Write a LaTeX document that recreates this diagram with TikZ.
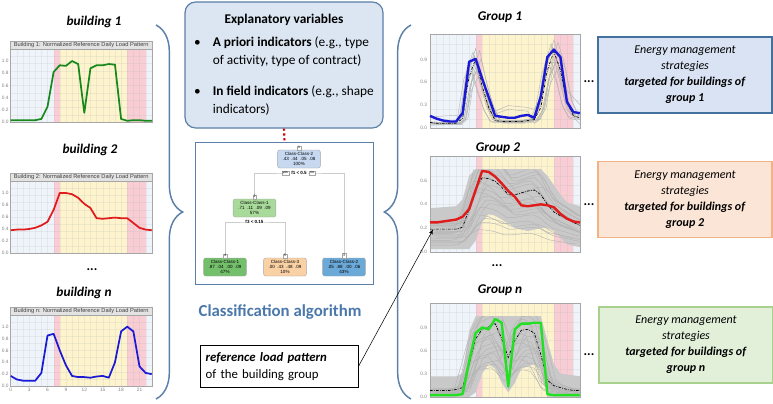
\documentclass[tikz,border=0pt]{standalone}
\usepackage{fontspec}
\setmainfont{Carlito}
\newfontfamily\chartfont{Liberation Sans}
\usetikzlibrary{arrows,positioning,decorations.pathreplacing}

\definecolor{varblue}{HTML}{DCE6F2}
\definecolor{frameblue}{HTML}{5B7FA8}
\definecolor{titleblue}{HTML}{4A78AA}
\definecolor{nightblue}{HTML}{EEF4FA}
\definecolor{peakpink}{HTML}{F8CDD4}
\definecolor{dayyellow}{HTML}{FDF4CD}
\definecolor{stratblue}{HTML}{DAE3F3}
\definecolor{stratblueline}{HTML}{41719C}
\definecolor{stratorange}{HTML}{FBE5D6}
\definecolor{stratorangeline}{HTML}{F4B183}
\definecolor{stratgreen}{HTML}{E2F0D9}
\definecolor{stratgreenline}{HTML}{A9D18E}
\definecolor{rootblue}{HTML}{C6D9F1}
\definecolor{midgreen}{HTML}{A8DA9A}
\definecolor{leafgreen}{HTML}{74BF6C}
\definecolor{leaforange}{HTML}{FAD0A5}
\definecolor{leafblue}{HTML}{6AA9D8}
\definecolor{curvegreen}{HTML}{16881C}
\definecolor{curvered}{HTML}{E01B1B}
\definecolor{curveblue}{HTML}{1A1AD6}
\definecolor{limegreen}{HTML}{22E022}

% day bands behind a load chart, #1 = top of the plot
\newcommand{\daybands}[1]{%
  \fill[nightblue] (0,0) rectangle (7,#1);
  \fill[peakpink] (7,0) rectangle (8,#1);
  \fill[dayyellow] (8,0) rectangle (19,#1);
  \fill[peakpink] (19,0) rectangle (22,#1);
  \fill[nightblue] (22,0) rectangle (23,#1);
  \foreach \gx in {1,...,22}
    \draw[gridline] (\gx,0) -- (\gx,#1);
  \foreach \gy in {1,...,9}
    \draw[gridline] (0,{\gy*#1/10}) -- (23,{\gy*#1/10});
}

% reference patterns of the groups (fraction of plot height)
\def\groupOneRef{(0,.06) -- (1,.05) -- (2,.05) -- (3,.05) -- (4,.05) -- (5,.10) -- (6,.55) -- (7,.74) -- (8,.45) -- (9,.22) -- (10,.08) -- (11,.07) -- (12,.07) -- (13,.07) -- (14,.07) -- (15,.08) -- (16,.09) -- (17,.22) -- (18,.62) -- (19,.82) -- (20,.62) -- (21,.28) -- (22,.13) -- (23,.11)}
\def\groupTwoRef{(0,.24) -- (1,.24) -- (2,.24) -- (3,.24) -- (4,.24) -- (5,.26) -- (6,.45) -- (7,.66) -- (8,.78) -- (9,.77) -- (10,.74) -- (11,.68) -- (12,.60) -- (13,.60) -- (14,.62) -- (15,.64) -- (16,.65) -- (17,.60) -- (18,.50) -- (19,.42) -- (20,.38) -- (21,.35) -- (22,.31) -- (23,.28)}
\def\groupNRef{(0,.07) -- (1,.07) -- (2,.07) -- (3,.07) -- (4,.08) -- (5,.10) -- (6,.35) -- (7,.62) -- (8,.72) -- (9,.75) -- (10,.78) -- (11,.62) -- (12,.42) -- (13,.60) -- (14,.71) -- (15,.72) -- (16,.68) -- (17,.45) -- (18,.18) -- (19,.12) -- (20,.10) -- (21,.08) -- (22,.07) -- (23,.07)}

\begin{document}
\begin{tikzpicture}[
    x=0.75pt, y=-0.75pt,
    >=latex',
    font=\fontsize{9}{11}\selectfont,
    gridline/.style={gray!60, opacity=0.18, line width=0.2pt},
    chartframe/.style={draw=gray!70, line width=0.4pt},
    titlebar/.style={fill=gray!22, draw=gray!70, line width=0.4pt},
    charttitle/.style={font=\chartfont\fontsize{4.3}{5}\selectfont, text=black!75, inner sep=0pt},
    ticklab/.style={font=\chartfont\fontsize{3.6}{4}\selectfont, text=gray, inner sep=0.5pt},
    loadline/.style={line width=1.3pt, line join=round},
    groupline/.style={line width=1.8pt, line join=round},
    refline/.style={black, line width=0.5pt, dash pattern=on 2pt off 1pt on 0.5pt off 1pt},
    grayline/.style={gray!60, line width=0.3pt},
    bundle/.style={fill=gray!42},
    blabel/.style={font=\fontsize{10}{12}\selectfont\bfseries\itshape},
    dots/.style={font=\fontsize{10}{12}\selectfont\bfseries},
    varbox/.style={
		rectangle,
		rounded corners=8pt,
		draw=frameblue,
		line width=0.9pt,
		fill=varblue,
		minimum width=148.5pt,
		minimum height=94.5pt,
		inner sep=0pt,
		font=\fontsize{10}{13.5}\selectfont
	},
    treebox/.style={
		rectangle,
		draw=frameblue,
		line width=0.9pt,
		fill=white,
		minimum width=134pt,
		minimum height=107pt
	},
    treenode/.style={
		rectangle,
		rounded corners=1.5pt,
		draw=gray!70,
		line width=0.3pt,
		align=center,
		font=\chartfont\fontsize{3.4}{4}\selectfont,
		minimum width=32pt,
		minimum height=13.5pt,
		inner sep=0.5pt
	},
    treeid/.style={draw=gray!70, fill=white, line width=0.2pt, font=\chartfont\fontsize{2.6}{3}\selectfont, inner sep=0.6pt},
    treeedge/.style={gray!40, line width=0.6pt},
    splitlab/.style={fill=white, font=\chartfont\bfseries\fontsize{3.4}{4}\selectfont, inner sep=0.6pt},
    stratbox/.style={
		rectangle,
		line width=1.4pt,
		align=center,
		minimum width=130pt,
		minimum height=57pt,
		font=\fontsize{9}{12}\selectfont
	},
    refbox/.style={
		rectangle,
		draw=black,
		line width=0.6pt,
		fill=white,
		align=left,
		minimum width=118.5pt,
		minimum height=32pt,
		text width=110pt,
		font=\fontsize{9.6}{12.5}\selectfont
	},
    bracestyle/.style={decorate, draw=frameblue, line width=1.1pt}
  ]
  \useasboundingbox (0,0) rectangle (773,403);

  % left column: daily load patterns of single buildings
  \node[blabel] (b1) at (94,22) {building 1};
  \node[blabel] (b2) at (90,150) {building 2};
  \node[dots] (bdots) at (92,270) {...};
  \node[blabel] (bn) at (84,293) {building n};

  \begin{scope}[shift={(10.7,122)}, x=4.6pt, y=45.75pt]
    \daybands{1.2}
    \draw[titlebar] (0,1.2) rectangle (23,1.32);
    \node[charttitle] at (11.5,1.26) {Building 1: Normalized Reference Daily Load Pattern};
    \draw[chartframe] (0,0) rectangle (23,1.32);
    \foreach \v in {0.0,0.2,0.4,0.6,0.8,1.0}
      \node[ticklab, anchor=east] at (-0.2,\v) {\v};
    \draw[loadline, curvegreen] (0,.03) -- (1,.03) -- (2,.03) -- (3,.03) -- (4,.03) -- (5,.05) -- (6,.25) -- (7,.82) -- (8,.93) -- (9,.92) -- (10,1.0) -- (11,.95) -- (12,.15) -- (13,.88) -- (14,.93) -- (15,.93) -- (16,.95) -- (17,.94) -- (18,.05) -- (19,.02) -- (20,.03) -- (21,.03) -- (22,.02) -- (23,.02);
  \end{scope}

  \begin{scope}[shift={(10.7,253)}, x=4.6pt, y=45pt]
    \daybands{1.2}
    \draw[titlebar] (0,1.2) rectangle (23,1.33);
    \node[charttitle] at (11.5,1.265) {Building 2: Normalized Reference Daily Load Pattern};
    \draw[chartframe] (0,0) rectangle (23,1.33);
    \foreach \v in {0.0,0.2,0.4,0.6,0.8,1.0}
      \node[ticklab, anchor=east] at (-0.2,\v) {\v};
    \draw[loadline, curvered] (0,.38) -- (1,.39) -- (2,.39) -- (3,.40) -- (4,.42) -- (5,.46) -- (6,.52) -- (7,.72) -- (8,1.0) -- (9,1.0) -- (10,.98) -- (11,.92) -- (12,.82) -- (13,.75) -- (14,.58) -- (15,.57) -- (16,.58) -- (17,.59) -- (18,.58) -- (19,.58) -- (20,.50) -- (21,.42) -- (22,.39) -- (23,.38);
  \end{scope}

  \begin{scope}[shift={(10.7,386)}, x=4.6pt, y=44.5pt]
    \daybands{1.2}
    \draw[titlebar] (0,1.2) rectangle (23,1.33);
    \node[charttitle] at (11.5,1.265) {Building n: Normalized Reference Daily Load Pattern};
    \draw[chartframe] (0,0) rectangle (23,1.33);
    \foreach \v in {0.0,0.2,0.4,0.6,0.8,1.0}
      \node[ticklab, anchor=east] at (-0.2,\v) {\v};
    \foreach \h in {0,3,...,21}
      \node[ticklab, anchor=north] at (\h,-0.02) {\h};
    \draw[loadline, curveblue] (0,.17) -- (1,.11) -- (2,.09) -- (3,.09) -- (4,.09) -- (5,.22) -- (6,.85) -- (7,.88) -- (8,.60) -- (9,.35) -- (10,.17) -- (11,.15) -- (12,.15) -- (13,.14) -- (14,.16) -- (15,.17) -- (16,.14) -- (17,.40) -- (18,.92) -- (19,1.0) -- (20,.92) -- (21,.33) -- (22,.22) -- (23,.20);
  \end{scope}

  % braces
  \draw[bracestyle, decoration={brace, amplitude=20pt}] (156,25) -- (156,399);
  \draw[bracestyle, decoration={brace, amplitude=20pt}] (411,399) -- (411,25);

  % middle column: explanatory variables and tree
  \node[varbox] (expl) at (284,65)
 {%
 \begin{tabular}{@{}p{14pt}@{}l@{}}
  \multicolumn{2}{c}{\textbf{Explanatory variables}}\\[4pt]
  \textbullet & \textbf{A priori indicators} (e.g., type\\
   & of activity, type of contract)\\[9.5pt]
  \textbullet & \textbf{In field indicators} (e.g., shape\\
   & indicators)
 \end{tabular}
 };

  \node[treebox] (tree) at (284.5,213.5) {};
  \draw[red!85!black, line width=1.6pt, dotted] (expl.south) -- (tree.north);

  \node[treenode, fill=rootblue] (t1) at (299,159) {Class-Class-2\\.43\ \ .44\ \ .05\ \ .08\\100\%};
  \node[treenode, fill=midgreen] (t2) at (254.5,208) {Class-Class-1\\.71\ \ .11\ \ .09\ \ .09\\57\%};
  \node[treenode, fill=leafgreen] (t4) at (225,267) {Class-Class-1\\.87\ \ .04\ \ .00\ \ .09\\47\%};
  \node[treenode, fill=leaforange] (t5) at (285,267) {Class-Class-3\\.00\ \ .43\ \ .48\ \ .09\\10\%};
  \node[treenode, fill=leafblue] (t3) at (344,267) {Class-Class-2\\.05\ \ .88\ \ .00\ \ .06\\43\%};

  \coordinate (s1) at (299,173);
  \coordinate (s2) at (254.5,222);
  \draw[treeedge] (t2.north) |- (s1) -| (t3.north);
  \draw[treeedge] (t4.north) |- (s2) -| (t5.north);

  \node[treeid, above=0pt of t1] (id1) {1};
  \node[treeid, above=0pt of t2] (id2) {2};
  \node[treeid, above=0pt of t4] (id4) {4};
  \node[treeid, above=0pt of t5] (id5) {5};
  \node[treeid, above=0pt of t3] (id3) {3};
  \node[splitlab] (sp1) at (s1) {f1 < 0.5};
  \node[treeid, left=1pt of sp1] (yes1) {yes};
  \node[treeid, right=1pt of sp1] (no1) {no};
  \node[splitlab] (sp2) at (s2) {f3 < 0.15};

  \node[font=\fontsize{12.6}{15}\selectfont\bfseries, text=titleblue] (algo) at (280,312) {Classification algorithm};

  \node[refbox] (ref) at (279,366.5) {\textbf{\textit{reference load pattern}}\\of the building group};

  % right column: groups
  \node[blabel] (g1) at (500,17) {Group 1};
  \node[blabel] (g2) at (498,148) {Group 2};
  \node[dots] (gdots) at (497,266) {...};
  \node[blabel] (gn) at (500,290) {Group n};

  \begin{scope}[shift={(430,128)}, x=4.89pt, y=70pt]
    \daybands{1}
    \begin{scope}
      \clip (0,0) rectangle (23,1);
      \foreach \gs/\gx in {0.8/-3,0.9/2,1.05/-1,1.12/3,0.95/-4,1.0/4,0.85/1,1.1/-2,1.15/0,0.75/2}
        \draw[grayline, xshift=\gx pt, yscale=\gs] \groupOneRef;
      \draw[grayline] (0,.12) -- (5,.14) -- (6,.6) -- (7,.7) -- (9,.3) -- (10,.18) -- (12,.24) -- (15,.22) -- (16,.2) -- (17,.35) -- (18,.7) -- (20,.7) -- (21,.4) -- (23,.25);
      \draw[grayline] (0,.03) -- (5,.04) -- (6,.4) -- (7,.65) -- (9,.2) -- (10,.15) -- (12,.2) -- (15,.18) -- (16,.05) -- (17,.1) -- (18,.45) -- (19,.75) -- (21,.2) -- (23,.04);
    \end{scope}
    \draw[chartframe] (0,0) rectangle (23,1);
    \foreach \v/\t in {0/0.0,0.245/0.3,0.49/0.6,0.735/0.9}
      \node[ticklab, anchor=east] at (-0.3,\v) {\t};
    \draw[refline] \groupOneRef;
    \draw[groupline, curveblue] (0,.13) -- (1,.10) -- (2,.08) -- (3,.07) -- (4,.07) -- (5,.16) -- (6,.71) -- (7,.74) -- (8,.53) -- (9,.33) -- (10,.13) -- (11,.12) -- (12,.11) -- (13,.11) -- (14,.13) -- (15,.14) -- (16,.11) -- (17,.34) -- (18,.76) -- (19,.84) -- (20,.76) -- (21,.28) -- (22,.17) -- (23,.16);
  \end{scope}

  \begin{scope}[shift={(430,252)}, x=4.89pt, y=71.5pt]
    \daybands{1}
    \begin{scope}
      \clip (0,0) rectangle (23,.87);
      \fill[bundle] (0,.46) -- (4,.48) -- (5,.55) -- (6,.80) -- (7,.87) -- (17,.87) -- (18,.80) -- (19,.70) -- (20,.60) -- (21,.52) -- (23,.48) -- (23,.05) -- (21,.08) -- (20,.15) -- (19,.22) -- (18,.25) -- (17,.25) -- (15,.22) -- (13,.25) -- (12,.30) -- (10,.38) -- (9,.40) -- (8,.32) -- (7,.12) -- (6,.03) -- (0,.03) -- cycle;
      \foreach \gs/\gx in {0.3/-3,0.45/2,0.6/-1,0.7/3,0.8/-4,0.9/4,1.0/1,1.1/-2,1.2/0,1.3/2,0.5/-5,0.65/5,0.85/-2,0.95/-6,1.05/6,1.15/-3,1.25/3,0.4/0,0.75/1,1.35/-1}
        \draw[grayline, xshift=\gx pt, yscale=\gs] \groupTwoRef;
    \end{scope}
    \draw[chartframe] (0,0) rectangle (23,1);
    \foreach \v/\t in {0/0.0,0.25/0.2,0.5/0.4,0.75/0.6}
      \node[ticklab, anchor=east] at (-0.3,\v) {\t};
    \draw[refline] \groupTwoRef;
    \draw[groupline, curvered] (0,.31) -- (1,.31) -- (2,.32) -- (3,.33) -- (4,.34) -- (5,.37) -- (6,.45) -- (7,.65) -- (8,.85) -- (9,.84) -- (10,.79) -- (11,.72) -- (12,.64) -- (13,.58) -- (14,.49) -- (15,.48) -- (16,.49) -- (17,.50) -- (18,.49) -- (19,.47) -- (20,.40) -- (21,.35) -- (22,.32) -- (23,.31);
    \coordinate (refpt) at (0.5,.24);
  \end{scope}

  \begin{scope}[shift={(430,397)}, x=4.89pt, y=70.5pt]
    \daybands{1}
    \begin{scope}
      \clip (0,0) rectangle (23,.86);
      \fill[bundle] (0,.22) -- (4,.22) -- (5,.25) -- (6,.70) -- (7,.86) -- (17,.86) -- (18,.60) -- (19,.35) -- (20,.25) -- (23,.22) -- (23,0) -- (18,0) -- (17,.30) -- (16,.35) -- (14,.30) -- (13,.15) -- (12,.05) -- (11,.15) -- (10,.30) -- (9,.35) -- (8,.25) -- (7,.05) -- (6,0) -- (0,0) -- cycle;
      \foreach \gs/\gx in {0.4/-3,0.5/2,0.6/-1,0.7/3,0.8/-4,0.9/4,1.0/1,1.1/-2,1.2/0,0.55/-5,0.65/5,0.85/-2,0.95/-6,1.05/6,1.15/-3,0.75/1,1.25/2,0.45/0}
        \draw[grayline, xshift=\gx pt, yscale=\gs] \groupNRef;
    \end{scope}
    \draw[chartframe] (0,0) rectangle (23,1);
    \foreach \v/\t in {0/0.0,0.245/0.3,0.49/0.6,0.735/0.9}
      \node[ticklab, anchor=east] at (-0.3,\v) {\t};
    \draw[refline] \groupNRef;
    \draw[groupline, limegreen] (0,.02) -- (1,.02) -- (2,.02) -- (3,.02) -- (4,.02) -- (5,.03) -- (6,.38) -- (7,.68) -- (8,.74) -- (9,.72) -- (10,.83) -- (11,.79) -- (12,.11) -- (13,.72) -- (14,.78) -- (15,.78) -- (16,.79) -- (17,.79) -- (18,.03) -- (19,.02) -- (20,.02) -- (21,.02) -- (22,.02) -- (23,.02);
  \end{scope}

  \draw[black, line width=0.4pt, ->] (ref.east) -- (refpt);

  \node[dots] (d1) at (589,82) {...};
  \node[dots] (d2) at (589,205) {...};
  \node[dots] (dn) at (589,355) {...};

  % strategies
  \node[stratbox, draw=stratblueline, fill=stratblue] (st1) at (685,75)
 {\textit{Energy management}\\\textit{strategies}\\\textbf{\textit{targeted for buildings of}}\\\textbf{\textit{group 1}}};
  \node[stratbox, draw=stratorangeline, fill=stratorange] (st2) at (685,199.5)
 {\textit{Energy management}\\\textit{strategies}\\\textbf{\textit{targeted for buildings of}}\\\textbf{\textit{group 2}}};
  \node[stratbox, draw=stratgreenline, fill=stratgreen] (st3) at (686,345)
 {\textit{Energy management}\\\textit{strategies}\\\textbf{\textit{targeted for buildings of}}\\\textbf{\textit{group n}}};

\end{tikzpicture}
\end{document}
